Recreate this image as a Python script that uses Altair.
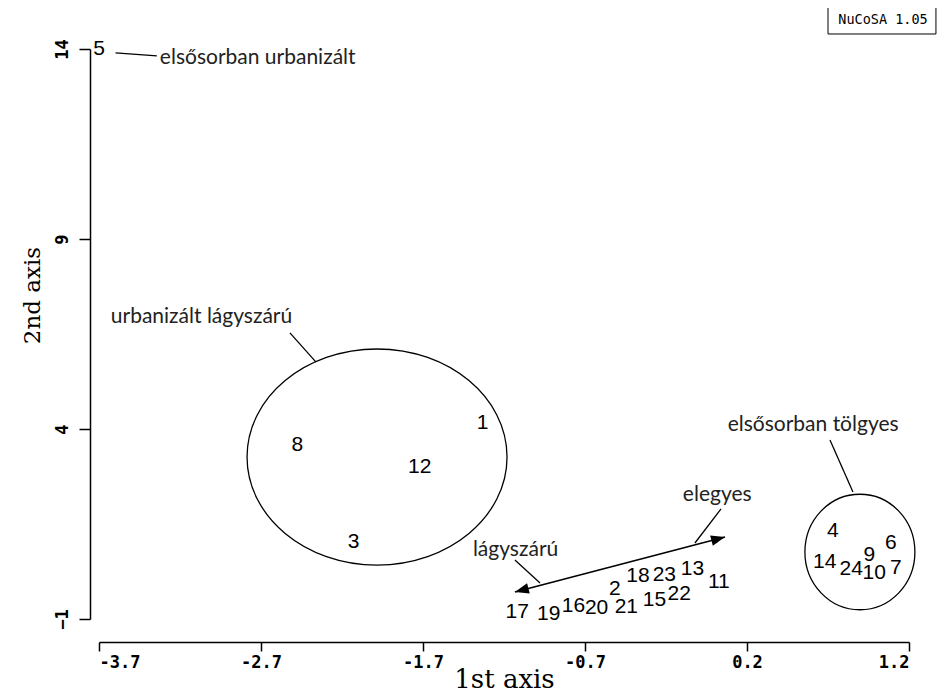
import altair as alt
import pandas as pd

# ---- site scores (plotted as their numeric labels) ----
site_ids = ["5", "1", "8", "12", "3", "4", "6", "9", "14", "24", "10", "7",
            "17", "19", "16", "20", "21", "15", "22", "2", "18", "23", "13", "11"]
site_x = [-3.70, -1.38, -2.50, -1.76, -2.16, 0.74, 1.09, 0.96, 0.69, 0.85, 0.99, 1.12,
          -1.17, -0.98, -0.83, -0.69, -0.51, -0.34, -0.19, -0.58, -0.44, -0.28, -0.11, 0.05]
site_y = [14.00, 4.16, 3.58, 3.00, 1.03, 1.32, 1.00, 0.68, 0.50, 0.32, 0.21, 0.34,
          -0.82, -0.87, -0.66, -0.71, -0.68, -0.50, -0.34, -0.21, 0.13, 0.16, 0.32, -0.03]

# ---- axis ticks ----
x_tick_values = [-3.7, -2.72, -1.74, -0.76, 0.22, 1.2]
x_tick_labels = ["-3.7", "-2.7", "-1.7", "-0.7", "0.2", "1.2"]
y_tick_values = [-1, 4, 9, 14]

# ---- group annotations ----
note_text = ["elsősorban urbanizált", "urbanizált lágyszárú", "lágyszárú", "elegyes", "elsősorban tölgyes"]
note_x = [-2.74, -3.08, -1.18, 0.04, 0.62]
note_y = [13.76, 6.95, 0.82, 2.26, 4.10]

leader_x1 = [-3.60, -2.545, -1.184, 0.063, 0.722]
leader_y1 = [13.90, 6.53, 0.55, 1.90, 3.71]
leader_x2 = [-3.35, -2.387, -1.032, -0.095, 0.861]
leader_y2 = [13.82, 5.76, -0.05, 1.00, 2.34]

# gradient arrow (lágyszárú <-> elegyes)
arrow_x = [-1.184, 0.087]
arrow_y = [-0.289, 1.158]

# group ellipse centres
urban_center_x = [-2.018]
urban_center_y = [3.263]
oak_center_x = [0.903]
oak_center_y = [0.763]

# program stamp
stamp_text = ["NuCoSA 1.05"]
stamp_x = [1.043]
stamp_y = [14.76]
stamp_box_x = [0.71]
stamp_box_x2 = [1.363]
stamp_box_y = [15.105]
stamp_box_y2 = [14.395]

sites = pd.DataFrame({"id": site_ids, "x": site_x, "y": site_y})
notes = pd.DataFrame({"t": note_text, "x": note_x, "y": note_y})
leaders = pd.DataFrame({"x": leader_x1, "y": leader_y1, "x2": leader_x2, "y2": leader_y2})
arrow = pd.DataFrame({"x": [arrow_x[0]], "y": [arrow_y[0]], "x2": [arrow_x[1]], "y2": [arrow_y[1]]})
arrow_left = pd.DataFrame({"x": [arrow_x[0]], "y": [arrow_y[0]]})
arrow_right = pd.DataFrame({"x": [arrow_x[1]], "y": [arrow_y[1]]})
urban = pd.DataFrame({"x": urban_center_x, "y": urban_center_y})
oak = pd.DataFrame({"x": oak_center_x, "y": oak_center_y})
stamp_box = pd.DataFrame({"x": stamp_box_x, "x2": stamp_box_x2, "y": stamp_box_y, "y2": stamp_box_y2})
stamp = pd.DataFrame({"t": stamp_text, "x": stamp_x, "y": stamp_y})

xs = alt.Scale(domain=[-3.7, 1.2], nice=False, zero=False)
ys = alt.Scale(domain=[-1, 14], nice=False, zero=False)

label_expr = ""
for v, lab in zip(x_tick_values, x_tick_labels):
    label_expr += f"abs(datum.value - ({v})) < 0.01 ? '{lab}' : "
label_expr += "''"

x_axis = alt.Axis(values=x_tick_values, labelExpr=label_expr, offset=23, tickSize=9,
                  domainColor="black", domainWidth=1.5, tickColor="black", tickWidth=1.5,
                  labelFont="DejaVu Sans Mono", labelFontWeight="bold", labelFontSize=17,
                  labelColor="black", labelPadding=3, grid=False,
                  titleFont="DejaVu Serif", titleFontSize=26, titleFontWeight="normal",
                  titleColor="black", titleY=45, titleBaseline="alphabetic")
y_axis = alt.Axis(values=y_tick_values, offset=9, tickSize=11,
                  domainColor="black", domainWidth=1.5, tickColor="black", tickWidth=1.5,
                  labelFont="DejaVu Sans Mono", labelFontWeight="bold", labelFontSize=17,
                  labelColor="black", labelPadding=8, labelAngle=270, labelAlign="center",
                  labelBaseline="bottom", grid=False,
                  titleFont="DejaVu Serif", titleFontSize=23, titleFontWeight="normal",
                  titleColor="black", titleX=-58, titleY=246, titleBaseline="middle", titleAngle=270)

points = alt.Chart(sites).mark_text(font="Liberation Sans", fontSize=21, color="black").encode(
    text="id:N")

ann = alt.Chart(notes).mark_text(font="Lato", fontSize=21, color="#222222").encode(text="t:N")

lead = alt.Chart(leaders).mark_rule(color="black", strokeWidth=1.3).encode(x2="x2:Q", y2="y2:Q")

arr = alt.Chart(arrow).mark_rule(color="black", strokeWidth=1.6).encode(x2="x2:Q", y2="y2:Q")

head_path = "M0,0L-2,-0.75L-2,0.75Z"
head_r = alt.Chart(arrow_right).mark_point(shape=head_path, size=196, filled=True, color="black",
                                            opacity=1, angle=345)
head_l = alt.Chart(arrow_left).mark_point(shape=head_path, size=196, filled=True, color="black",
                                           opacity=1, angle=165)

ell1 = alt.Chart(urban).mark_point(
    shape="M-1,0A1,0.831,0,1,0,1,0A1,0.831,0,1,0,-1,0", size=260 * 260,
    filled=False, stroke="black", strokeWidth=1.3, opacity=1)

ell2 = alt.Chart(oak).mark_point(
    shape="M-1,0A1,1.05,0,1,0,1,0A1,1.05,0,1,0,-1,0", size=110 * 110,
    filled=False, stroke="black", strokeWidth=1.3, opacity=1)

box = alt.Chart(stamp_box).mark_rect(fill="white", stroke="black", strokeWidth=1).encode(
    x2="x2:Q", y2="y2:Q")
box_text = alt.Chart(stamp).mark_text(font="DejaVu Sans Mono", fontSize=13.5, color="black").encode(
    text="t:N")

chart = alt.layer(ell1, ell2, lead, arr, head_r, head_l, points, ann, box, box_text).encode(
    x=alt.X("x:Q", scale=xs, axis=x_axis, title="1st axis"),
    y=alt.Y("y:Q", scale=ys, axis=y_axis, title="2nd axis"),
).properties(
    width=810, height=570,
    padding={"left": 91, "top": 41, "right": 28, "bottom": 73},
    autosize=alt.AutoSizeParams(type="none"),
    background="white",
).configure_view(stroke=None)

chart.save("out.html", embed_options={"renderer": "svg", "actions": False})
